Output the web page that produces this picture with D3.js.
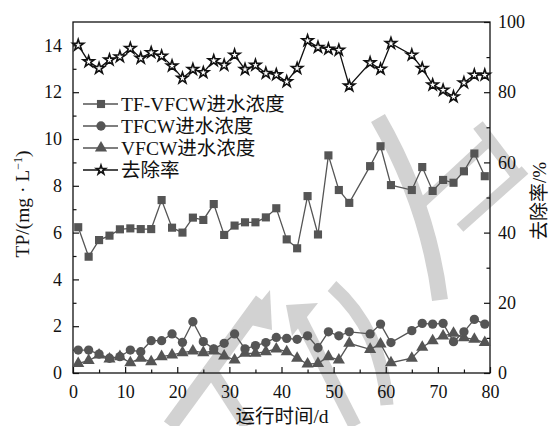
<!DOCTYPE html>
<html>
<head>
<meta charset="utf-8">
<script src="https://cdn.jsdelivr.net/npm/d3@7/dist/d3.min.js"></script>
<style>
  html, body { margin: 0; padding: 0; background: #fff; }
  svg { display: block; }
  text { font-family: "Liberation Serif", "Tinos", "Times New Roman", Times, "DejaVu Serif", "Noto Sans CJK SC", serif; fill: #111; }
</style>
</head>
<body>
<svg id="chart" width="551" height="426"></svg>
<script>
// Sampling days (every other day; days 55 and 63 not sampled)
const days = [1,3,5,7,9,11,13,15,17,19,21,23,25,27,29,31,33,35,37,39,
              41,43,45,47,49,51,53,57,59,61,65,67,69,71,73,75,77,79];

// Influent TP, mg/L
const tfvfcw = [6.23,4.97,5.68,5.87,6.14,6.18,6.15,6.15,7.39,6.21,6.00,6.64,6.54,7.22,5.90,6.30,6.44,6.44,6.65,7.04,
                5.71,5.33,7.56,5.92,9.30,7.82,7.27,8.84,9.69,8.03,7.82,8.80,7.78,8.25,8.13,8.62,9.38,8.41];
const tfcw   = [0.98,0.98,0.81,0.63,0.70,0.98,0.91,1.38,1.38,1.67,1.31,2.19,1.34,1.03,1.27,1.67,1.03,1.17,1.30,1.52,
                1.48,1.44,1.59,1.08,1.76,1.59,1.76,1.67,2.09,1.30,1.81,2.12,2.09,2.12,1.34,1.76,2.29,2.09];
const vfcw   = [0.41,0.53,0.77,0.60,0.70,0.44,0.63,0.48,0.70,0.77,0.87,0.94,0.87,0.94,0.73,0.56,0.84,0.84,0.91,1.03,
                0.91,0.63,0.38,0.41,0.70,0.56,1.27,1.01,1.24,0.44,0.63,1.10,1.38,1.58,1.70,1.51,1.44,1.30];
// Removal rate, %
const removal = [93.4,88.7,86.8,89.2,90.1,92.5,89.7,91.3,90.3,87.5,84.0,86.5,85.6,89.0,87.7,90.6,86.5,87.7,85.4,85.0,
                 83.0,86.8,94.7,92.8,92.3,92.0,81.8,88.4,86.6,93.9,90.6,86.8,82.1,80.6,78.7,82.7,84.9,84.9];

const xTicks = [0,10,20,30,40,50,60,70,80];
const yLeftTicks = [0,2,4,6,8,10,12,14];
const yRightTicks = [0,20,40,60,80,100];
const legendLabels = ["TF-VFCW进水浓度", "TFCW进水浓度", "VFCW进水浓度", "去除率"];

const svg = d3.select("#chart");
const m = { left: 73, right: 490, top: 22, bottom: 373 };

const x = d3.scaleLinear().domain([0, 80]).range([m.left, m.right]);
const yL = d3.scaleLinear().domain([0, 15]).range([m.bottom, m.top]);
const yR = d3.scaleLinear().domain([0, 100]).range([m.bottom, m.top]);

const tickFont = 18;
const labelFont = 19.5;
const serif = '"Liberation Serif", "Tinos", "Times New Roman", Times, "DejaVu Serif", "Noto Sans CJK SC", serif';

// Faint background stamp, drawn first so everything sits on top of it
const stamp = svg.append("g").attr("fill", "none").attr("stroke", "#d2d2d2")
  .attr("stroke-linecap", "butt");
stamp.append("path").attr("d", "M170,426 L262,300").attr("stroke-width", 15);
stamp.append("path").attr("d", "M212,372 L247,426").attr("stroke-width", 13);
stamp.append("path").attr("d", "M243,323 L270,290 L272,330 Z").attr("fill", "#d2d2d2").attr("stroke", "none");
stamp.append("path").attr("d", "M300,318 L355,426").attr("stroke-width", 13);
stamp.append("path").attr("d", "M286,305 L318,303 L292,336 Z").attr("fill", "#d2d2d2").attr("stroke", "none");
stamp.append("path").attr("d", "M378,118 Q428,205 440,300").attr("stroke-width", 16);
stamp.append("path").attr("d", "M332,286 Q382,330 387,405").attr("stroke-width", 13);
stamp.append("path").attr("d", "M420,205 L490,140").attr("stroke-width", 10);
stamp.append("path").attr("d", "M460,228 L525,170").attr("stroke-width", 10);
stamp.append("path").attr("d", "M478,125 L520,180").attr("stroke-width", 12);

// Frame
svg.append("rect")
  .attr("x", m.left).attr("y", m.top)
  .attr("width", m.right - m.left).attr("height", m.bottom - m.top)
  .attr("fill", "none").attr("stroke", "#111").attr("stroke-width", 1.3);

// Bottom axis: ticks point inward
svg.append("g").attr("transform", `translate(0,${m.bottom})`)
  .call(d3.axisBottom(x).tickValues(xTicks).tickSize(-6).tickPadding(12).tickFormat(d3.format("d")));
svg.append("g").attr("transform", `translate(0,${m.bottom})`)
  .call(d3.axisBottom(x).tickValues(d3.range(5, 80, 10)).tickSize(-3.5).tickFormat(""));

// Left axis
svg.append("g").attr("transform", `translate(${m.left},0)`)
  .call(d3.axisLeft(yL).tickValues(yLeftTicks).tickSize(-6).tickPadding(11).tickFormat(d3.format("d")));
svg.append("g").attr("transform", `translate(${m.left},0)`)
  .call(d3.axisLeft(yL).tickValues(d3.range(1, 15, 2)).tickSize(-3.5).tickFormat(""));

// Right axis
svg.append("g").attr("transform", `translate(${m.right},0)`)
  .call(d3.axisRight(yR).tickValues(yRightTicks).tickSize(-6).tickPadding(8).tickFormat(d3.format("d")));
svg.append("g").attr("transform", `translate(${m.right},0)`)
  .call(d3.axisRight(yR).tickValues(d3.range(10, 100, 20)).tickSize(-3.5).tickFormat(""));

svg.selectAll("g").attr("font-family", null);
svg.selectAll(".domain").remove();
svg.selectAll(".tick line").attr("stroke", "#111").attr("stroke-width", 1.2);
svg.selectAll(".tick text").attr("font-size", tickFont).attr("fill", "#111")
  .attr("font-family", serif).style("font-family", serif).style("font-size", tickFont + "px");

// Axis titles
svg.append("text")
  .attr("transform", `translate(29,204) rotate(-90)`)
  .attr("text-anchor", "middle").style("font-size", labelFont + "px")
  .html('TP/(mg · L<tspan dy="-7" font-size="12">−1</tspan><tspan dy="7">)</tspan>');

svg.append("text")
  .attr("transform", `translate(546,201) rotate(-90)`)
  .attr("text-anchor", "middle").style("font-size", "19px")
  .text("去除率/%");

svg.append("text")
  .attr("x", 282).attr("y", 423)
  .attr("text-anchor", "middle").style("font-size", labelFont + "px")
  .text("运行时间/d");

// Series
const markFill = "#555555";
const lineCol = "#555555";

const sym = {
  square: d3.symbol().type(d3.symbolSquare).size(66),
  circle: d3.symbol().type(d3.symbolCircle).size(68),
  triangle: d3.symbol().type(d3.symbolTriangle).size(64),
  star: d3.symbol().type(d3.symbolStar).size(38),
  starSmall: d3.symbol().type(d3.symbolStar).size(26)
};

function drawSeries(vals, yScale, shape, isStar) {
  const g = svg.append("g");
  g.append("path")
    .attr("d", d3.line().x((d, i) => x(days[i])).y(d => yScale(d))(vals))
    .attr("fill", "none")
    .attr("stroke", isStar ? "#111" : lineCol)
    .attr("stroke-width", 1.3);
  g.selectAll("path.m").data(vals).join("path").attr("class", "m")
    .attr("d", shape)
    .attr("transform", (d, i) => `translate(${x(days[i])},${yScale(d)})`)
    .attr("fill", isStar ? "#fff" : markFill)
    .attr("stroke", isStar ? "#111" : "none")
    .attr("stroke-width", isStar ? 1.6 : 0);
}

drawSeries(vfcw, yL, sym.triangle, false);
drawSeries(tfcw, yL, sym.circle, false);
drawSeries(tfvfcw, yL, sym.square, false);
drawSeries(removal, yR, sym.star, true);

// Legend
const legend = svg.append("g");
const legendShapes = [sym.square, sym.circle, sym.triangle, sym.starSmall];
legendLabels.forEach((lab, i) => {
  const ly = 104 + i * 22;
  const isStar = i === 3;
  legend.append("line")
    .attr("x1", 83).attr("x2", 118).attr("y1", ly).attr("y2", ly)
    .attr("stroke", isStar ? "#111" : lineCol).attr("stroke-width", 1.3);
  legend.append("path")
    .attr("d", legendShapes[i]())
    .attr("transform", `translate(101,${ly})`)
    .attr("fill", isStar ? "#fff" : markFill)
    .attr("stroke", isStar ? "#111" : "none")
    .attr("stroke-width", isStar ? 1.6 : 0);
  legend.append("text")
    .attr("x", 121).attr("y", ly + 7)
    .style("font-size", labelFont + "px")
    .text(lab);
});
</script>
</body>
</html>
